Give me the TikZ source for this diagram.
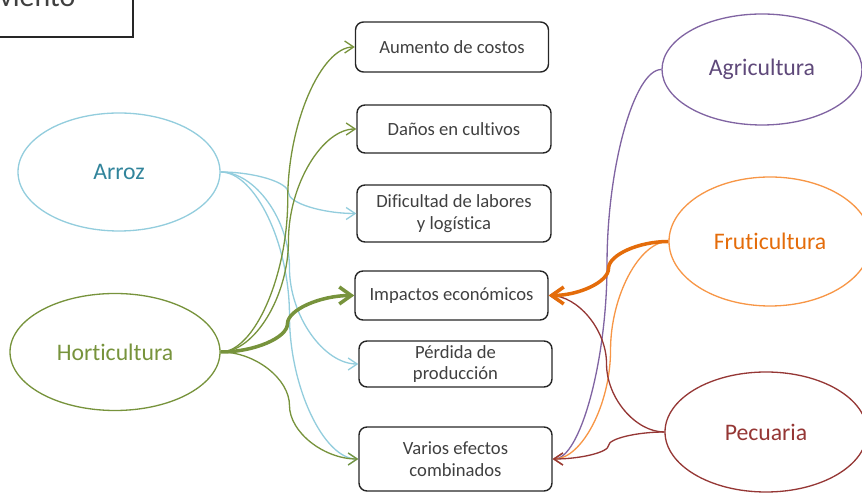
\documentclass[tikz,border=0pt]{standalone}
\usepackage{fontspec}
\setmainfont{Carlito}[Ligatures=NoCommon]
\usepackage{xcolor}
\usepackage{tikz}
\usetikzlibrary{arrows.meta,calc,shapes.geometric}
\definecolor{BoxLine}{HTML}{262626}
\definecolor{BoxText}{HTML}{404040}
\definecolor{ArrozLine}{HTML}{93CDDD}
\definecolor{ArrozText}{HTML}{31849B}
\definecolor{HortLine}{HTML}{77933C}
\definecolor{AgriLine}{HTML}{8064A2}
\definecolor{AgriText}{HTML}{5F497A}
\definecolor{FrutLine}{HTML}{F79646}
\definecolor{FrutDark}{HTML}{E46C0A}
\definecolor{PecuLine}{HTML}{953735}

\begin{document}
\begin{tikzpicture}[x=1cm,y=1cm,
  cause/.style={ellipse,draw,line width=.75pt,inner sep=0pt,font=\fontsize{13.5}{16}\selectfont},
  effect/.style={draw=BoxLine,rounded corners=.16cm,line width=.8pt,minimum width=3.86cm,
    inner sep=0pt,align=center,text=BoxText,font=\fontsize{10.6}{12.2}\selectfont},
  wire/.style={line width=.75pt,-{Straight Barb[length=.18cm,width=.24cm]}},
  heavy/.style={line width=2pt,-{Straight Barb[length=.24cm,width=.34cm]}},
  % elbow-like S curve: horizontal out, vertical through the middle, horizontal in
  link/.style={to path={let \p1=(\tikztostart), \p2=(\tikztotarget) in
    .. controls ({(3*\x1+\x2)/4},\y1) and ({(\x1+\x2)/2},{(3*\y1+\y2)/4})
    .. ({(\x1+\x2)/2},{(\y1+\y2)/2})
    .. controls ({(\x1+\x2)/2},{(\y1+3*\y2)/4}) and ({(\x1+3*\x2)/4},\y2)
    .. (\tikztotarget)}}]
\clip (0,0) rectangle (17.24,9.88);

% title box, cut by the page corner
\draw[BoxLine,line width=1pt] (-0.5,9.14) rectangle (2.66,10.5);
\node[anchor=base west,inner sep=0pt,text=BoxText,font=\fontsize{17}{20}\selectfont] (viento) at (-0.02,9.74) {viento};

% effects
\node[effect,minimum height=1.00cm] (costos) at (9.04,8.94) {Aumento de costos};
\node[effect,minimum width=3.88cm,minimum height=.96cm] (danos) at (9.08,7.30) {Daños en cultivos};
\node[effect,minimum width=3.88cm,minimum height=1.14cm] (labores) at (9.08,5.61) {Dificultad de labores\\y logística};
\node[effect,minimum height=.98cm] (impactos) at (9.03,3.97) {Impactos económicos};
\node[effect,minimum height=.92cm] (perdida) at (9.11,2.60) {Pérdida de\\producción};
\node[effect,minimum height=1.28cm] (varios) at (9.11,0.70) {Varios efectos\\combinados};

% sectors
\node[cause,draw=ArrozLine,text=ArrozText,minimum width=4.04cm,minimum height=2.36cm] (arroz) at (2.38,6.44) {Arroz};
\node[cause,draw=HortLine,text=HortLine,minimum width=4.20cm,minimum height=2.34cm] (hort) at (2.30,2.84) {Horticultura};
\node[cause,draw=AgriLine,text=AgriText,minimum width=4.00cm,minimum height=2.22cm] (agri) at (15.24,8.49) {Agricultura};
\node[cause,draw=FrutLine,text=FrutDark,minimum width=4.04cm,minimum height=2.58cm] (fruti) at (15.40,5.05) {Fruticultura};
\node[cause,draw=PecuLine,text=PecuLine,minimum width=4.04cm,minimum height=2.40cm] (pecu) at (15.32,1.24) {Pecuaria};

% left side
\draw[wire,ArrozLine] (arroz.east) to[link] (labores.west);
\draw[wire,ArrozLine] (arroz.east) to[link] (perdida.west);
\draw[wire,ArrozLine] (arroz.east) to[link] (varios.west);
\draw[wire,HortLine] (hort.east) to[link] (costos.west);
\draw[wire,HortLine] (hort.east) to[link] (danos.west);
\draw[heavy,HortLine] (hort.east) to[link] (impactos.west);
\draw[wire,HortLine] (hort.east) to[link] (varios.west);

% right side
\draw[wire,AgriLine] (agri.west) to[link] (varios.east);
\draw[wire,FrutLine] (fruti.west) to[link] (varios.east);
\draw[wire,PecuLine] (pecu.west) to[link] (impactos.east);
\draw[wire,PecuLine] (pecu.west) to[link] (varios.east);
\draw[heavy,FrutDark] (fruti.west) to[link] (impactos.east);
\end{tikzpicture}
\end{document}
